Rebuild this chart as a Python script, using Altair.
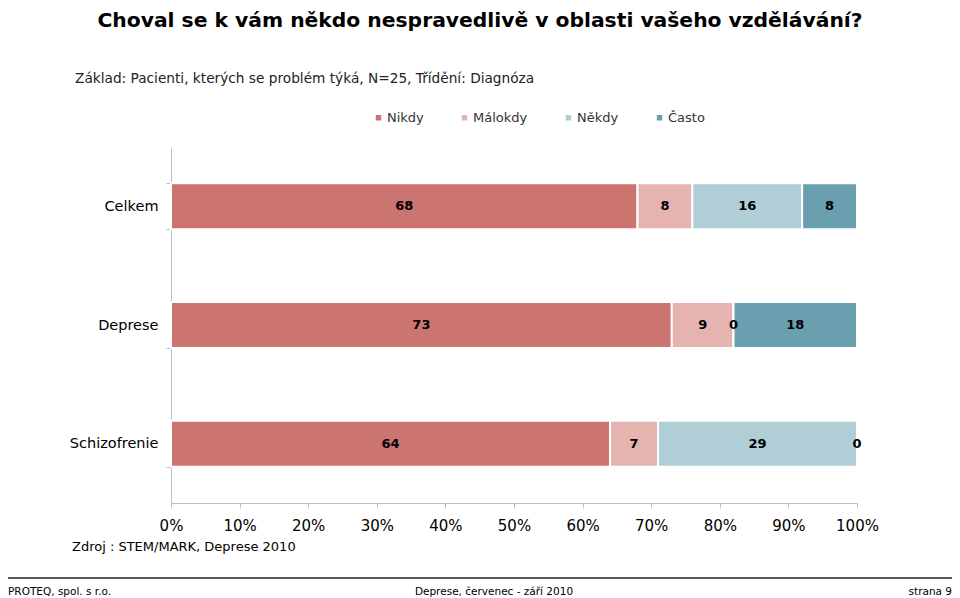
import altair as alt
import pandas as pd

categories = ["Celkem", "Deprese", "Schizofrenie"]
series = ["Nikdy", "Málokdy", "Někdy", "Často"]
nikdy = [68, 73, 64]
malokdy = [8, 9, 7]
nekdy = [16, 0, 29]
casto = [8, 18, 0]
colors = ["#CC7470", "#E6B4B0", "#AFCED6", "#699FAF"]
x_ticks = [0, 10, 20, 30, 40, 50, 60, 70, 80, 90, 100]

title_text = ["Choval se k vám někdo nespravedlivě v oblasti vašeho vzdělávání?"]
subtitle_text = ["Základ: Pacienti, kterých se problém týká, N=25, Třídění: Diagnóza"]
source_text = ["Zdroj : STEM/MARK, Deprese 2010"]
footer_left = ["PROTEQ, spol. s r.o."]
footer_center = ["Deprese, červenec - září 2010"]
footer_right = ["strana 9"]

rows = []
for i, cat in enumerate(categories):
    for j, (s, vals) in enumerate(zip(series, [nikdy, malokdy, nekdy, casto])):
        rows.append({"kat": cat, "serie": s, "poradi": j, "hodnota": vals[i]})
df = pd.DataFrame(rows)

FONT = "DejaVu Sans"

base = alt.Chart(df).transform_stack(
    stack="hodnota",
    groupby=["kat"],
    as_=["x0", "x1"],
    sort=[alt.SortField("poradi", order="ascending")],
).transform_calculate(mid="(datum.x0 + datum.x1) / 2")

y_scale = alt.Scale(paddingInner=0.612, paddingOuter=0.306)

bars = base.mark_bar(stroke="white", strokeWidth=2).encode(
    x=alt.X(
        "x0:Q",
        scale=alt.Scale(domain=[0, 100]),
        axis=alt.Axis(
            title=None, values=x_ticks, labelExpr="datum.value + '%'", grid=False,
            domainColor="#BFBFBF", tickColor="#BFBFBF", tickSize=5,
            labelFont=FONT, labelFontSize=15, labelColor="#000000", labelPadding=10,
            labelFlush=False, labelOverlap=False,
        ),
    ),
    x2="x1:Q",
    y=alt.Y(
        "kat:N", sort=categories, scale=y_scale,
        axis=alt.Axis(
            title=None, tickBand="extent", domainColor="#BFBFBF", tickColor="#BFBFBF",
            tickSize=5, labelFont=FONT, labelFontSize=14.5, labelColor="#000000",
            labelPadding=8,
        ),
    ),
    color=alt.Color(
        "serie:N",
        scale=alt.Scale(domain=series, range=colors),
        legend=alt.Legend(
            title=None, orient="none", direction="horizontal", legendX=201, legendY=-36,
            symbolType="square", symbolSize=30, symbolStrokeWidth=0, labelOffset=2,
            columnPadding=34, labelFont=FONT, labelFontSize=13, labelColor="#333333",
            padding=0,
        ),
    ),
    order=alt.Order("poradi:Q"),
)

labels = base.mark_text(
    font=FONT, fontWeight="bold", fontSize=13, color="#000000", baseline="middle"
).encode(
    x="mid:Q",
    y=alt.Y("kat:N", sort=categories, scale=y_scale),
    text="hodnota:Q",
)


def note(txt, x, y, **kw):
    return alt.Chart(pd.DataFrame({"t": txt})).mark_text(**kw).encode(
        x=alt.value(x), y=alt.value(y), text="t:N"
    )


title = note(title_text, 309, -120, font=FONT, fontWeight="bold",
             fontSize=20.3, align="center", baseline="alphabetic", color="#000000")
subtitle = note(subtitle_text, -96, -64, font=FONT, fontSize=13.7, align="left",
                baseline="alphabetic", color="#222222")
source = note(source_text, -99, 404, font=FONT, fontSize=13, align="left",
              baseline="alphabetic", color="#000000")
f_left = note(footer_left, -163, 448, font=FONT, fontSize=10.5, align="left",
              baseline="alphabetic", color="#000000")
f_center = note(footer_center, 323, 448, font=FONT, fontSize=10.5, align="center",
                baseline="alphabetic", color="#000000")
f_right = note(footer_right, 781, 448, font=FONT, fontSize=10.5, align="right",
               baseline="alphabetic", color="#000000")

rule = alt.Chart(pd.DataFrame({"a": [0]})).mark_rule(color="#595959", strokeWidth=2).encode(
    x=alt.value(-163), x2=alt.value(781), y=alt.value(431)
)

chart = alt.layer(bars, labels, title, subtitle, source, rule, f_left, f_center, f_right).properties(
    width=686,
    height=356,
    autosize=alt.AutoSizeParams(type="none"),
    padding={"left": 163, "top": 139, "right": 95, "bottom": 95},
).configure_view(stroke=None)

chart.save("out.html", embed_options={"renderer": "svg", "actions": False})
